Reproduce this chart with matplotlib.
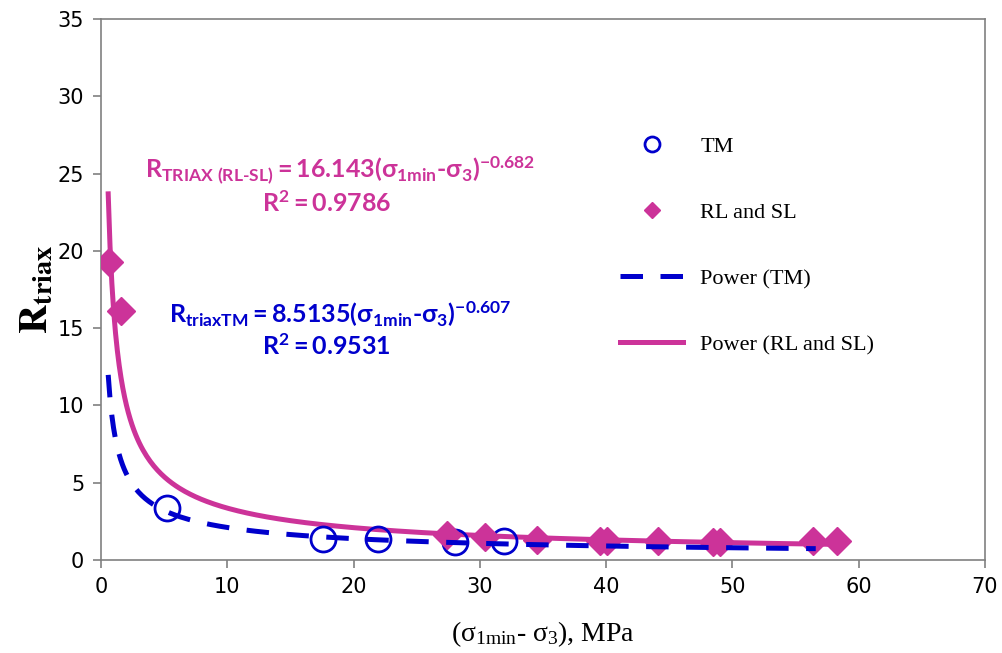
import numpy as np
import matplotlib.pyplot as plt

# data
tm_x = [5.2, 17.6, 21.9, 28.0, 31.9]
tm_y = [3.35, 1.35, 1.35, 1.15, 1.2]

rl_x = [0.6, 1.6, 27.4, 30.4, 34.5, 39.5, 40.1, 44.1, 48.5, 49.0, 56.4, 58.3]
rl_y = [19.3, 16.1, 1.6, 1.5, 1.3, 1.25, 1.2, 1.2, 1.15, 1.15, 1.2, 1.2]

# power trendlines as printed on the chart
tm_a, tm_b = 8.5135, -0.607
rl_a, rl_b = 16.143, -0.682
tm_range = (0.57, 56.6)
rl_range = (0.57, 58.3)

blue = '#0000CC'
mag = '#CC3399'

plt.rcParams['mathtext.fontset'] = 'custom'
plt.rcParams['mathtext.rm'] = 'Lato:bold'
plt.rcParams['mathtext.it'] = 'Lato:bold'
plt.rcParams['mathtext.bf'] = 'Lato:bold'

fig = plt.figure(figsize=(10.02, 6.53), dpi=100)
ax = fig.add_axes([0.1008, 0.1424, 0.8822, 0.8286])

xt = np.linspace(*tm_range, 400)
xr = np.linspace(*rl_range, 400)

ax.plot(tm_x, tm_y, 'o', ms=18, mfc='none', mec=blue, mew=2, label='TM', zorder=3)
ax.plot(rl_x, rl_y, 'D', ms=14, color=mag, mec=mag, label='RL and SL', zorder=4)
ax.plot(xt, tm_a * xt ** tm_b, '--', color=blue, lw=3.6, dashes=(4.5, 3.5),
        label='Power (TM)', zorder=5)
ax.plot(xr, rl_a * xr ** rl_b, '-', color=mag, lw=3.6, label='Power (RL and SL)', zorder=2)

ax.set_xlim(0, 70)
ax.set_ylim(0, 35)
ax.set_xticks(range(0, 71, 10))
ax.set_yticks(range(0, 36, 5))
for s in ax.spines.values():
    s.set_color('#808080')
    s.set_linewidth(1.2)
ax.tick_params(direction='out', length=6, color='#808080', width=1.2,
               labelsize=15, pad=6)
for lab in ax.get_xticklabels() + ax.get_yticklabels():
    lab.set_family(['Liberation Sans Narrow', 'DejaVu Sans'])

ax.set_xlabel(r'($\mathregular{\sigma_{1min}}$- $\mathregular{\sigma_3}$), MPa',
              fontsize=20, family='Liberation Serif', labelpad=16)
ax.set_ylabel(r'$\mathbf{R_{triax}}$', fontsize=29, labelpad=1)
ax.yaxis.label.set_math_fontfamily('stix')
ax.xaxis.label.set_math_fontfamily('stix')

ax.text(0.27, 0.72,
        r'$\mathrm{R_{TRIAX\ (RL\text{-}SL)}=16.143(\sigma_{1min}\text{-}\sigma_3)^{-0.682}}$',
        transform=ax.transAxes, color=mag, fontsize=18, ha='center', va='center')
ax.text(0.255, 0.658, r'$\mathrm{R^2=0.9786}$',
        transform=ax.transAxes, color=mag, fontsize=18, ha='center', va='center')
ax.text(0.27, 0.455,
        r'$\mathrm{R_{triaxTM}=8.5135(\sigma_{1min}\text{-}\sigma_3)^{-0.607}}$',
        transform=ax.transAxes, color=blue, fontsize=18, ha='center', va='center')
ax.text(0.255, 0.393, r'$\mathrm{R^2=0.9531}$',
        transform=ax.transAxes, color=blue, fontsize=18, ha='center', va='center')

leg = ax.legend(loc='upper left', bbox_to_anchor=(0.565, 0.82), frameon=False,
                prop={'family': 'Liberation Serif', 'size': 16},
                labelspacing=2.05, handlelength=2.8, markerscale=0.6)

fig.savefig('out.png', dpi=100)
